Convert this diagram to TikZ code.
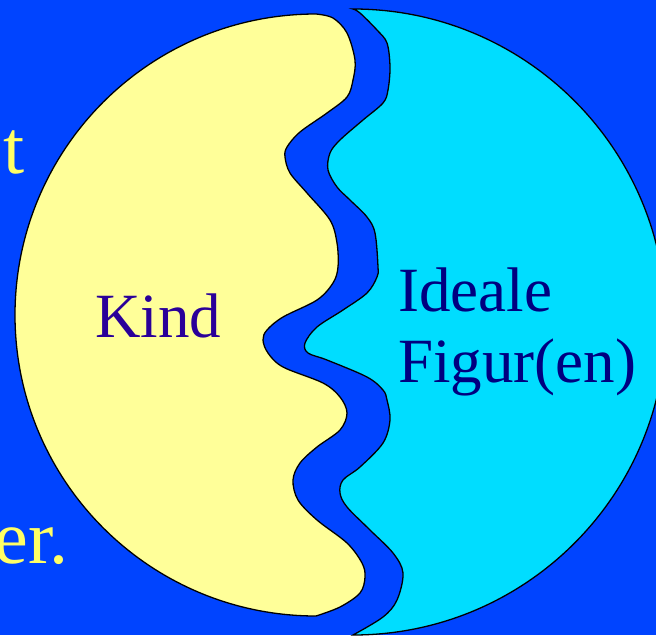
\documentclass[tikz,border=0pt]{standalone}
\usepackage{fontspec}
\setmainfont{Liberation Serif}
\definecolor{slidebg}{HTML}{0044FF}
\definecolor{kindfill}{HTML}{FFFF99}
\definecolor{idealfill}{HTML}{00DDFF}
\definecolor{kindink}{HTML}{2A0099}
\definecolor{idealink}{HTML}{000080}
\definecolor{sideink}{HTML}{FFFF66}

\begin{document}
\begin{tikzpicture}[x=1pt, y=-1pt,
    outline/.style={draw=black, line width=1.3pt},
    kindtext/.style={inner sep=0pt, text=kindink, font=\fontsize{63}{71}\selectfont},
    idealtext/.style={inner sep=0pt, text=idealink, font=\fontsize{63}{71}\selectfont},
    sidetext/.style={inner sep=0pt, text=sideink, font=\fontsize{76}{86}\selectfont}]
                \fill[slidebg] (0,0) rectangle (656,635);
                \useasboundingbox (0,0) rectangle (656,635);

                % Kind (left half)
                \draw[outline, fill=kindfill] (316,14) arc[start angle=-90, end angle=-270, radius=301]
                    -- plot[smooth, tension=0.55] coordinates {(316,616) (340,607) (360,593) (365,577) (362,563) (347,543) (317,520) (298,500) (293,480) (300,463) (317,447) (340,430) (347,413) (340,397) (323,383) (283,367) (268,353) (263,340) (267,330) (283,317) (317,300) (333,283) (338,267) (337,243) (330,220) (307,193) (290,173) (285,157) (287,147) (300,132) (327,113) (347,97) (353,80) (355,60) (347,33) (333,18) (316,14)} -- cycle;

                % ideale Figur (right half)
                \draw[outline, fill=idealfill] (353,9) arc[start angle=-90, end angle=90, radius=313]
                    -- plot[smooth, tension=0.55] coordinates {(353,635) (383,617) (397,600) (403,573) (393,553) (370,530) (347,507) (340,493) (343,480) (360,467) (383,443) (390,420) (387,400) (383,390) (367,377) (327,360) (308,353) (305,343) (317,327) (343,310) (367,293) (377,277) (378,267) (375,233) (367,217) (350,200) (337,187) (328,170) (330,153) (340,140) (363,120) (383,103) (388,90) (390,67) (387,43) (377,30) (360,13) (353,9)} -- cycle;

                \node[kindtext, anchor=base west] (kind) at (95,337) {Kind};
                \node[idealtext, anchor=north west, align=left] (ideal) at (398,268) {Ideale\\Figur(en)};

                \node[sidetext, anchor=base west] (sidet) at (3,173) {t};
                \node[sidetext, anchor=base east] (sideer) at (69,563) {er.};
            \end{tikzpicture}
\end{document}
